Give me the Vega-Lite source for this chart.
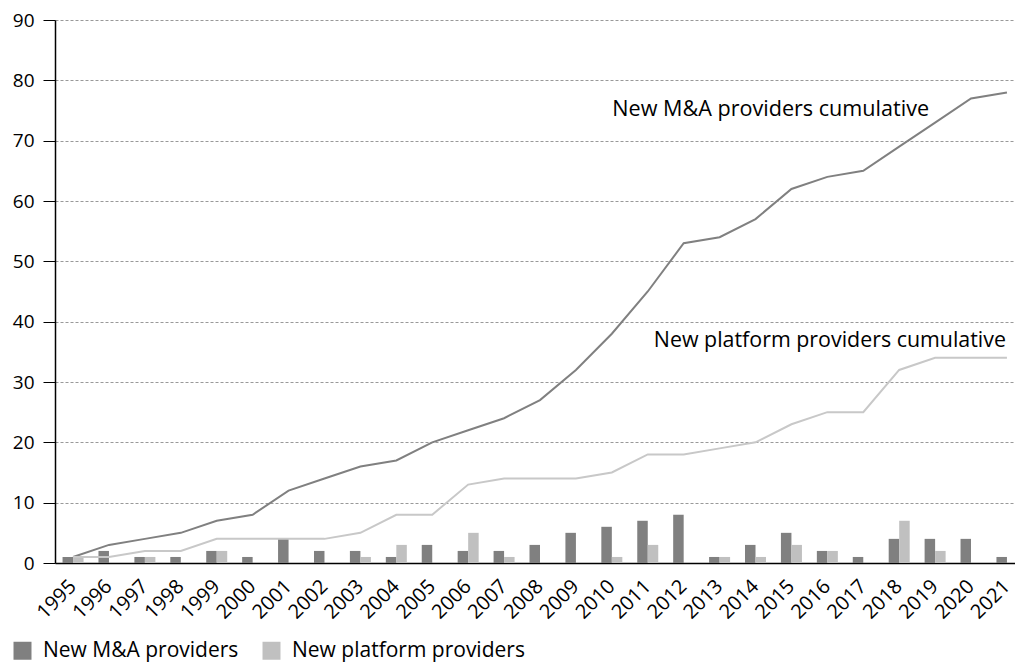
{
  "$schema": "https://vega.github.io/schema/vega-lite/v6.json",
  "width": 970,
  "height": 543,
  "autosize": {"type": "none"},
  "padding": {"left": 55, "top": 20, "right": 0, "bottom": 99},
  "background": "white",
  "config": {
    "font": "Open Sans",
    "view": {"stroke": null},
    "axis": {"labelColor": "black", "labelFontSize": 19, "titleColor": "black"}
  },
  "datasets": {
    "bars": [
      {"year": "1995", "type": "New M&A providers", "count": 1}, {"year": "1995", "type": "New platform providers", "count": 1},
      {"year": "1996", "type": "New M&A providers", "count": 2}, {"year": "1996", "type": "New platform providers", "count": 0},
      {"year": "1997", "type": "New M&A providers", "count": 1}, {"year": "1997", "type": "New platform providers", "count": 1},
      {"year": "1998", "type": "New M&A providers", "count": 1}, {"year": "1998", "type": "New platform providers", "count": 0},
      {"year": "1999", "type": "New M&A providers", "count": 2}, {"year": "1999", "type": "New platform providers", "count": 2},
      {"year": "2000", "type": "New M&A providers", "count": 1}, {"year": "2000", "type": "New platform providers", "count": 0},
      {"year": "2001", "type": "New M&A providers", "count": 4}, {"year": "2001", "type": "New platform providers", "count": 0},
      {"year": "2002", "type": "New M&A providers", "count": 2}, {"year": "2002", "type": "New platform providers", "count": 0},
      {"year": "2003", "type": "New M&A providers", "count": 2}, {"year": "2003", "type": "New platform providers", "count": 1},
      {"year": "2004", "type": "New M&A providers", "count": 1}, {"year": "2004", "type": "New platform providers", "count": 3},
      {"year": "2005", "type": "New M&A providers", "count": 3}, {"year": "2005", "type": "New platform providers", "count": 0},
      {"year": "2006", "type": "New M&A providers", "count": 2}, {"year": "2006", "type": "New platform providers", "count": 5},
      {"year": "2007", "type": "New M&A providers", "count": 2}, {"year": "2007", "type": "New platform providers", "count": 1},
      {"year": "2008", "type": "New M&A providers", "count": 3}, {"year": "2008", "type": "New platform providers", "count": 0},
      {"year": "2009", "type": "New M&A providers", "count": 5}, {"year": "2009", "type": "New platform providers", "count": 0},
      {"year": "2010", "type": "New M&A providers", "count": 6}, {"year": "2010", "type": "New platform providers", "count": 1},
      {"year": "2011", "type": "New M&A providers", "count": 7}, {"year": "2011", "type": "New platform providers", "count": 3},
      {"year": "2012", "type": "New M&A providers", "count": 8}, {"year": "2012", "type": "New platform providers", "count": 0},
      {"year": "2013", "type": "New M&A providers", "count": 1}, {"year": "2013", "type": "New platform providers", "count": 1},
      {"year": "2014", "type": "New M&A providers", "count": 3}, {"year": "2014", "type": "New platform providers", "count": 1},
      {"year": "2015", "type": "New M&A providers", "count": 5}, {"year": "2015", "type": "New platform providers", "count": 3},
      {"year": "2016", "type": "New M&A providers", "count": 2}, {"year": "2016", "type": "New platform providers", "count": 2},
      {"year": "2017", "type": "New M&A providers", "count": 1}, {"year": "2017", "type": "New platform providers", "count": 0},
      {"year": "2018", "type": "New M&A providers", "count": 4}, {"year": "2018", "type": "New platform providers", "count": 7},
      {"year": "2019", "type": "New M&A providers", "count": 4}, {"year": "2019", "type": "New platform providers", "count": 2},
      {"year": "2020", "type": "New M&A providers", "count": 4}, {"year": "2020", "type": "New platform providers", "count": 0},
      {"year": "2021", "type": "New M&A providers", "count": 1}, {"year": "2021", "type": "New platform providers", "count": 0}
    ],
    "cum": [
      {"year": "1995", "ma_cum": 1, "plat_cum": 1},
      {"year": "1996", "ma_cum": 3, "plat_cum": 1},
      {"year": "1997", "ma_cum": 4, "plat_cum": 2},
      {"year": "1998", "ma_cum": 5, "plat_cum": 2},
      {"year": "1999", "ma_cum": 7, "plat_cum": 4},
      {"year": "2000", "ma_cum": 8, "plat_cum": 4},
      {"year": "2001", "ma_cum": 12, "plat_cum": 4},
      {"year": "2002", "ma_cum": 14, "plat_cum": 4},
      {"year": "2003", "ma_cum": 16, "plat_cum": 5},
      {"year": "2004", "ma_cum": 17, "plat_cum": 8},
      {"year": "2005", "ma_cum": 20, "plat_cum": 8},
      {"year": "2006", "ma_cum": 22, "plat_cum": 13},
      {"year": "2007", "ma_cum": 24, "plat_cum": 14},
      {"year": "2008", "ma_cum": 27, "plat_cum": 14},
      {"year": "2009", "ma_cum": 32, "plat_cum": 14},
      {"year": "2010", "ma_cum": 38, "plat_cum": 15},
      {"year": "2011", "ma_cum": 45, "plat_cum": 18},
      {"year": "2012", "ma_cum": 53, "plat_cum": 18},
      {"year": "2013", "ma_cum": 54, "plat_cum": 19},
      {"year": "2014", "ma_cum": 57, "plat_cum": 20},
      {"year": "2015", "ma_cum": 62, "plat_cum": 23},
      {"year": "2016", "ma_cum": 64, "plat_cum": 25},
      {"year": "2017", "ma_cum": 65, "plat_cum": 25},
      {"year": "2018", "ma_cum": 69, "plat_cum": 32},
      {"year": "2019", "ma_cum": 73, "plat_cum": 34},
      {"year": "2020", "ma_cum": 77, "plat_cum": 34},
      {"year": "2021", "ma_cum": 78, "plat_cum": 34}
    ],
    "labels": [
      {"year": "2019", "value": 74.1, "label": "New M&A providers cumulative", "series": "ma"},
      {"year": "2021", "value": 35.8, "label": "New platform providers cumulative", "series": "plat"}
    ]
  },
  "encoding": {
    "x": {
      "field": "year",
      "type": "ordinal",
      "scale": {"paddingInner": 0.415, "paddingOuter": 0.21},
      "axis": {
        "title": null,
        "labelAngle": -45,
        "labelAlign": "right",
        "labelBaseline": "middle",
        "labelFontSize": 20,
        "ticks": false,
        "domainColor": "black",
        "domainWidth": 1.5,
        "labelPadding": 20
      }
    }
  },
  "layer": [
    {
      "data": {"name": "bars"},
      "mark": {"type": "bar"},
      "encoding": {
        "xOffset": {"field": "type", "type": "nominal", "scale": {"paddingInner": 0, "paddingOuter": 0}},
        "y": {
          "field": "count",
          "type": "quantitative",
          "scale": {"domain": [0, 90], "nice": false},
          "axis": {
            "title": null,
            "values": [0, 10, 20, 30, 40, 50, 60, 70, 80, 90],
            "grid": true,
            "gridDash": [3, 2],
            "gridColor": "#999999",
            "gridWidth": 1,
            "tickColor": "black",
            "tickSize": 12,
            "domainColor": "black",
            "domainWidth": 1.5,
            "labelPadding": 9
          }
        },
        "color": {
          "field": "type",
          "type": "nominal",
          "scale": {"domain": ["New M&A providers", "New platform providers"], "range": ["#808080", "#c0c0c0"]},
          "legend": {
            "title": null,
            "orient": "none",
            "legendX": -43,
            "legendY": 620,
            "direction": "horizontal",
            "symbolType": "square",
            "symbolSize": 324,
            "symbolStrokeWidth": 0,
            "labelFontSize": 21,
            "labelColor": "black",
            "labelLimit": 0,
            "labelOffset": 10,
            "columnPadding": 22
          }
        }
      }
    },
    {
      "data": {"name": "cum"},
      "mark": {"type": "line", "color": "#808080", "strokeWidth": 2},
      "encoding": {"y": {"field": "ma_cum", "type": "quantitative"}}
    },
    {
      "data": {"name": "cum"},
      "mark": {"type": "line", "color": "#c8c8c8", "strokeWidth": 2},
      "encoding": {"y": {"field": "plat_cum", "type": "quantitative"}}
    },
    {
      "data": {"name": "labels"},
      "transform": [{"filter": "datum.series === 'ma'"}],
      "mark": {"type": "text", "align": "right", "baseline": "alphabetic", "fontSize": 21.6, "dx": -6, "color": "black"},
      "encoding": {
        "y": {"field": "value", "type": "quantitative"},
        "text": {"field": "label"}
      }
    },
    {
      "data": {"name": "labels"},
      "transform": [{"filter": "datum.series === 'plat'"}],
      "mark": {"type": "text", "align": "right", "baseline": "alphabetic", "fontSize": 21.4, "dx": -1, "color": "black"},
      "encoding": {
        "y": {"field": "value", "type": "quantitative"},
        "text": {"field": "label"}
      }
    }
  ]
}
